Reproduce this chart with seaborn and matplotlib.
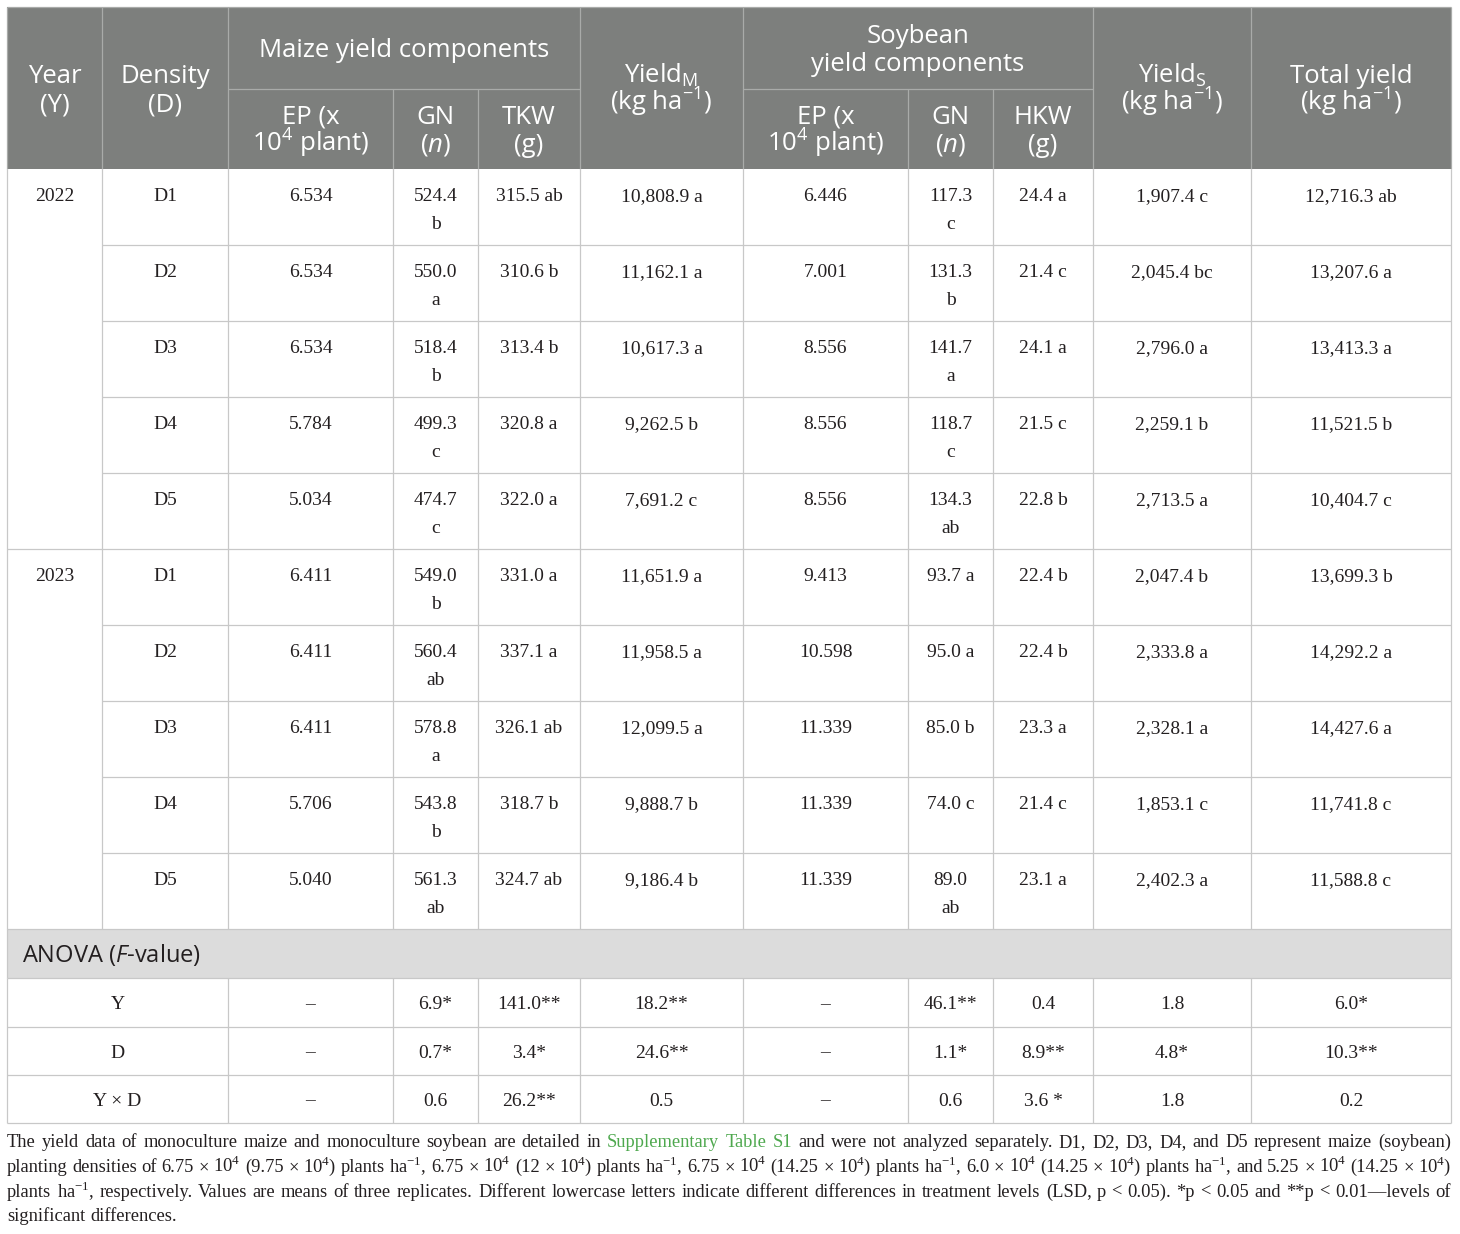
import matplotlib
matplotlib.use("Agg")
import matplotlib.pyplot as plt
import seaborn as sns
from matplotlib.patches import Rectangle

sns.set_theme(style="white")
plt.rcParams["font.family"] = ["Liberation Serif", "DejaVu Serif"]
plt.rcParams["mathtext.fontset"] = "custom"
plt.rcParams["mathtext.rm"] = "Open Sans"
plt.rcParams["mathtext.it"] = "Open Sans:italic"
plt.rcParams["mathtext.bf"] = "Open Sans:bold"

HEAD_FONT = ["Open Sans", "DejaVu Sans"]
BODY_FONT = ["Liberation Serif", "DejaVu Serif"]

# ---------------- data ----------------
years = ["2022", "2023"]
densities = ["D1", "D2", "D3", "D4", "D5"]

ep_maize = ["6.534", "6.534", "6.534", "5.784", "5.034",
            "6.411", "6.411", "6.411", "5.706", "5.040"]
gn_maize = ["524.4\nb", "550.0\na", "518.4\nb", "499.3\nc", "474.7\nc",
            "549.0\nb", "560.4\nab", "578.8\na", "543.8\nb", "561.3\nab"]
tkw = ["315.5 ab", "310.6 b", "313.4 b", "320.8 a", "322.0 a",
       "331.0 a", "337.1 a", "326.1 ab", "318.7 b", "324.7 ab"]
yield_m = ["10,808.9 a", "11,162.1 a", "10,617.3 a", "9,262.5 b", "7,691.2 c",
           "11,651.9 a", "11,958.5 a", "12,099.5 a", "9,888.7 b", "9,186.4 b"]
ep_soy = ["6.446", "7.001", "8.556", "8.556", "8.556",
          "9.413", "10.598", "11.339", "11.339", "11.339"]
gn_soy = ["117.3\nc", "131.3\nb", "141.7\na", "118.7\nc", "134.3\nab",
          "93.7 a", "95.0 a", "85.0 b", "74.0 c", "89.0\nab"]
hkw = ["24.4 a", "21.4 c", "24.1 a", "21.5 c", "22.8 b",
       "22.4 b", "22.4 b", "23.3 a", "21.4 c", "23.1 a"]
yield_s = ["1,907.4 c", "2,045.4 bc", "2,796.0 a", "2,259.1 b", "2,713.5 a",
           "2,047.4 b", "2,333.8 a", "2,328.1 a", "1,853.1 c", "2,402.3 a"]
total_yield = ["12,716.3 ab", "13,207.6 a", "13,413.3 a", "11,521.5 b", "10,404.7 c",
               "13,699.3 b", "14,292.2 a", "14,427.6 a", "11,741.8 c", "11,588.8 c"]

anova_sources = ["Y", "D", "Y × D"]
anova_y = ["–", "6.9*", "141.0**", "18.2**", "–", "46.1**", "0.4", "1.8", "6.0*"]
anova_d = ["–", "0.7*", "3.4*", "24.6**", "–", "1.1*", "8.9**", "4.8*", "10.3**"]
anova_yd = ["–", "0.6", "26.2**", "0.5", "–", "0.6", "3.6 *", "1.8", "0.2"]

anova_title = r"ANOVA ($\mathit{F}$-value)"

header_cells = [
    (0, 1, "full", ["Year", "(Y)"]),
    (1, 2, "full", ["Density", "(D)"]),
    (2, 5, "top", ["Maize yield components"]),
    (2, 3, "sub", ["EP (x", r"10$^{\mathregular{4}}$ plant)"]),
    (3, 4, "sub", ["GN", r"($\mathit{n}$)"]),
    (4, 5, "sub", ["TKW", "(g)"]),
    (5, 6, "full", [r"Yield$_{\mathregular{M}}$", r"(kg ha$^{\mathregular{-1}}$)"]),
    (6, 9, "top", ["Soybean", "yield components"]),
    (6, 7, "sub", ["EP (x", r"10$^{\mathregular{4}}$ plant)"]),
    (7, 8, "sub", ["GN", r"($\mathit{n}$)"]),
    (8, 9, "sub", ["HKW", "(g)"]),
    (9, 10, "full", [r"Yield$_{\mathregular{S}}$", r"(kg ha$^{\mathregular{-1}}$)"]),
    (10, 11, "full", ["Total yield", r"(kg ha$^{\mathregular{-1}}$)"]),
]

caption_lines = [
    [("The yield data of monoculture maize and monoculture soybean are detailed in", "k"),
     ("Supplementary Table S1", "g"),
     ("and were not analyzed separately. D1, D2, D3, D4, and D5 represent maize (soybean)", "k")],
    [(r"planting densities of 6.75 × 10$^{\mathregular{4}}$ (9.75 × 10$^{\mathregular{4}}$) plants ha$^{\mathregular{-1}}$, "
      r"6.75 × 10$^{\mathregular{4}}$ (12 × 10$^{\mathregular{4}}$) plants ha$^{\mathregular{-1}}$, "
      r"6.75 × 10$^{\mathregular{4}}$ (14.25 × 10$^{\mathregular{4}}$) plants ha$^{\mathregular{-1}}$, "
      r"6.0 × 10$^{\mathregular{4}}$ (14.25 × 10$^{\mathregular{4}}$) plants ha$^{\mathregular{-1}}$, "
      r"and 5.25 × 10$^{\mathregular{4}}$ (14.25 × 10$^{\mathregular{4}}$)", "k")],
    [(r"plants ha$^{\mathregular{-1}}$, respectively. Values are means of three replicates. Different lowercase "
      r"letters indicate different differences in treatment levels (LSD, p < 0.05). *p < 0.05 and **p < 0.01—levels of", "k")],
    [("significant differences.", "k")],
]

# ---------------- layout ----------------
X = [7, 102, 228, 393, 478, 580, 743, 908, 993, 1093, 1251, 1451]
H_TOP, H_MID, H_BOT = 7, 89, 169
ROW_H = 76
BODY_BOT = H_BOT + ROW_H * 10
AN_BAND = (BODY_BOT, 978)
AN_ROWS = [978, 1027, 1075, 1123]

HEAD_BG = "#7d7f7d"
HEAD_LINE = "#a9aba9"
GRID = "#c8c8c8"
TXT = "#231f20"
GREEN = "#4ea84e"

HEAD_FS = 18.5
BODY_FS = 14
CAP_FS0 = 13

fig = plt.figure(figsize=(14.6, 12.34), dpi=100)
ax = fig.add_axes([0, 0, 1, 1])
ax.set_xlim(0, 1460)
ax.set_ylim(1234, 0)
ax.axis("off")
renderer = fig.canvas.get_renderer()

def hline(y, x0, x1, c=GRID):
    ax.plot([x0, x1], [y, y], color=c, lw=0.9, solid_capstyle="butt")

def vline(x, y0, y1, c=GRID):
    ax.plot([x, x], [y0, y1], color=c, lw=0.9, solid_capstyle="butt")

# header
ax.add_patch(Rectangle((X[0], H_TOP), X[-1] - X[0], H_BOT - H_TOP, color=HEAD_BG, lw=0))
for c0, c1, kind, lines in header_cells:
    if kind == "full":
        y0, y1 = H_TOP, H_BOT
    elif kind == "top":
        y0, y1 = H_TOP, H_MID
    else:
        y0, y1 = H_MID, H_BOT
    cx = (X[c0] + X[c1]) / 2
    cy = (y0 + y1) / 2
    n = len(lines)
    for i, s in enumerate(lines):
        yc = cy + (i - (n - 1) / 2) * 28
        ax.text(cx, yc + 9, s, ha="center", va="baseline", fontsize=HEAD_FS,
                family=HEAD_FONT, color="white")
for x in [X[1], X[2], X[5], X[6], X[9], X[10]]:
    vline(x, H_TOP, H_BOT, HEAD_LINE)
for x in [X[3], X[4], X[7], X[8]]:
    vline(x, H_MID, H_BOT, HEAD_LINE)
hline(H_MID, X[2], X[5], HEAD_LINE)
hline(H_MID, X[6], X[9], HEAD_LINE)
hline(H_TOP, X[0], X[-1], HEAD_LINE)
vline(X[0], H_TOP, H_BOT, HEAD_LINE)
vline(X[-1], H_TOP, H_BOT, HEAD_LINE)

# body
columns = [ep_maize, gn_maize, tkw, yield_m, ep_soy, gn_soy, hkw, yield_s, total_yield]

def cell_text(cx, top, s):
    for i, line in enumerate(s.split("\n")):
        ax.text(cx, top + 32 + 28 * i, line, ha="center", va="baseline",
                fontsize=BODY_FS, family=BODY_FONT, color=TXT)

for r in range(10):
    top = H_BOT + r * ROW_H
    if r % 5 == 0:
        cell_text((X[0] + X[1]) / 2, top, years[r // 5])
    cell_text((X[1] + X[2]) / 2, top, densities[r % 5])
    for ci, col in enumerate(columns):
        cell_text((X[ci + 2] + X[ci + 3]) / 2, top, col[r])
    if r > 0:
        if r % 5 == 0:
            hline(top, X[0], X[-1])
        else:
            hline(top, X[1], X[-1])
for x in X:
    vline(x, H_BOT, BODY_BOT)
hline(BODY_BOT, X[0], X[-1])

# ANOVA band
ax.add_patch(Rectangle((X[0], AN_BAND[0]), X[-1] - X[0], AN_BAND[1] - AN_BAND[0],
                       color="#dcdcdc", lw=0))
ax.text(22, (AN_BAND[0] + AN_BAND[1]) / 2 + 8.5, anova_title, ha="left", va="baseline",
        fontsize=17, family=HEAD_FONT, color=TXT)
vline(X[0], AN_BAND[0], AN_BAND[1])
vline(X[-1], AN_BAND[0], AN_BAND[1])

anova_rows = [anova_y, anova_d, anova_yd]
for i, (src, vals) in enumerate(zip(anova_sources, anova_rows)):
    t, b = AN_ROWS[i], AN_ROWS[i + 1]
    base = (t + b) / 2 + 6.5
    ax.text((X[0] + X[2]) / 2, base, src, ha="center", va="baseline",
            fontsize=BODY_FS, family=BODY_FONT, color=TXT)
    for ci, v in enumerate(vals):
        ax.text((X[ci + 2] + X[ci + 3]) / 2, base, v, ha="center", va="baseline",
                fontsize=BODY_FS, family=BODY_FONT, color=TXT)
    hline(b, X[0], X[-1])
hline(AN_ROWS[0], X[0], X[-1])
for x in [X[0]] + X[2:]:
    vline(x, AN_ROWS[0], AN_ROWS[-1])

# caption (justified); size fitted so the widest line's natural width fills the row
def measure(s, fs):
    t = ax.text(0, 0, s, fontsize=fs, family=BODY_FONT)
    w = t.get_window_extent(renderer=renderer).width
    t.remove()
    return w

def natural_width(segs, fs):
    return measure(" ".join(txt for txt, _ in segs), fs)

avail = X[-1] - X[0]
widest = max(natural_width(s, CAP_FS0) for s in caption_lines[:-1])
CAP_FS = CAP_FS0 * (avail - 12) / widest
cap_base = [1147, 1172, 1197, 1221]

def place_line(segments, y, x0, x1, justify):
    objs, widths = [], []
    for txt, col in segments:
        color = GREEN if col == "g" else TXT
        for w in txt.split(" "):
            if not w:
                continue
            t = ax.text(0, y, w, fontsize=CAP_FS, family=BODY_FONT, color=color,
                        ha="left", va="baseline")
            objs.append(t)
            widths.append(t.get_window_extent(renderer=renderer).width)
    space = CAP_FS * 100 / 72 * 0.25
    if justify and len(objs) > 1:
        gap = (x1 - x0 - sum(widths)) / (len(objs) - 1)
    else:
        gap = space
    x = x0
    for t, w in zip(objs, widths):
        t.set_x(x)
        x += w + gap

for i, segs in enumerate(caption_lines):
    place_line(segs, cap_base[i], X[0], X[-1], justify=(i < len(caption_lines) - 1))

fig.savefig("out.png", dpi=100, facecolor="white")
